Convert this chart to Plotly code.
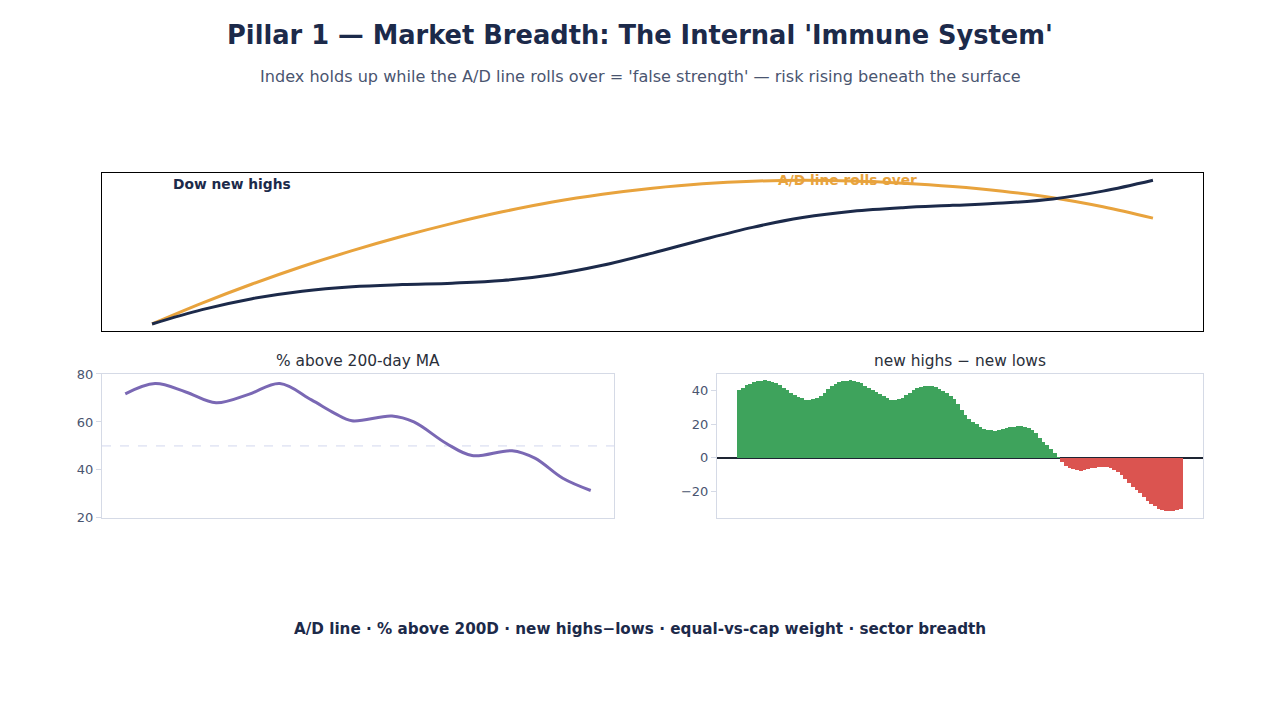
import plotly.graph_objects as go

# ---------------- data ----------------
top_t = [0.00, 0.05, 0.10, 0.15, 0.20, 0.25, 0.30, 0.35, 0.40, 0.45, 0.50,
         0.55, 0.60, 0.65, 0.70, 0.75, 0.80, 0.85, 0.90, 0.95, 1.00]
dow_index = [0, 10, 17.6, 22.8, 25.9, 27.4, 28.4, 30.2, 34.3, 40.8, 49.3,
             58.6, 67.2, 74.0, 78.4, 80.9, 82.5, 84.1, 87.0, 92.4, 100]
ad_line = [0, 14.5, 27.8, 40, 51, 61, 70, 78, 84.8, 90.2, 94.4,
           97.5, 99.3, 99.9, 99.4, 97.9, 95.6, 92.3, 87.8, 81.5, 73.6]

pct_t = [0.0, 0.064, 0.13, 0.195, 0.265, 0.332, 0.40, 0.45, 0.487, 0.573,
         0.62, 0.69, 0.745, 0.831, 0.88, 0.94, 1.0]
pct_above_200 = [71.7, 76, 72.5, 68, 71.5, 76, 69.2, 63.6, 60.5, 62.5,
                 60, 51, 46, 48, 44.9, 36.5, 31.4]

hl_net = [40.2, 41.8, 43.2, 44.2, 45.0, 45.7, 46.1, 46.2, 45.9, 45.4,
          44.4, 43.3, 41.9, 40.2, 38.5, 37.2, 36.2, 35.5, 34.6, 34.3,
          34.8, 35.8, 37.1, 38.8, 40.8, 42.8, 44.2, 45.1, 45.7, 46.1,
          46.2, 46.0, 45.4, 44.4, 43.1, 41.8, 40.4, 39.0, 37.8, 36.6,
          35.5, 34.6, 34.3, 34.8, 35.9, 37.3, 38.8, 40.2, 41.5, 42.5,
          43.0, 43.1, 42.9, 42.3, 41.3, 40.1, 38.7, 37.1, 34.8, 32.0,
          28.6, 25.6, 23.4, 21.6, 19.9, 18.6, 17.5, 16.8, 16.4, 16.3,
          16.5, 17.0, 17.6, 18.2, 18.6, 18.8, 18.9, 18.6, 17.9, 16.7,
          14.7, 12.1, 9.7, 7.4, 5.2, 2.8, 0.2, -2.6, -4.6, -5.8,
          -6.9, -7.5, -7.6, -7.4, -6.9, -6.3, -5.8, -5.5, -5.4, -5.6,
          -6.1, -7.1, -8.4, -10.2, -12.6, -15.2, -17.5, -19.3, -21.0, -23.2,
          -25.6, -27.5, -29.0, -30.3, -31.0, -31.4, -31.6, -31.5, -31.2, -30.8]
n_hl = len(hl_net)
hl_t = [i / (n_hl - 1) for i in range(n_hl)]

left_ticks = [20, 40, 60, 80]
right_ticks = [-20, 0, 20, 40]

NAVY = "#1c2a4a"
ORANGE = "#e8a33d"
PURPLE = "#7a68b4"
GREEN = "#3ea35c"
RED = "#db5450"
TICK = "#4a5570"
FRAME = "#d5dae6"

W = 1280
H_EFF = 705.6
Y_OFF = 6.7


def px(x):
    return x / W


def py(y):
    return 1 - (y - Y_OFF) / H_EFF


fig = go.Figure()

fig.add_trace(go.Scatter(x=top_t, y=ad_line, mode="lines", line=dict(color=ORANGE, width=3, shape="spline"),
                         xaxis="x", yaxis="y", showlegend=False, hoverinfo="skip"))
fig.add_trace(go.Scatter(x=top_t, y=dow_index, mode="lines", line=dict(color=NAVY, width=3, shape="spline"),
                         xaxis="x", yaxis="y", showlegend=False, hoverinfo="skip"))

fig.add_trace(go.Scatter(x=pct_t, y=pct_above_200, mode="lines", line=dict(color=PURPLE, width=3, shape="spline"),
                         xaxis="x2", yaxis="y2", showlegend=False))

fig.add_trace(go.Bar(x=hl_t, y=hl_net, marker=dict(color=[GREEN if v >= 0 else RED for v in hl_net], line=dict(width=0)),
                     xaxis="x3", yaxis="y3", showlegend=False))

top_dom_x = [px(102), px(1203)]
top_dom_y = [py(331), py(173)]
bl_dom_x = [px(102), px(614)]
br_dom_x = [px(717), px(1203)]
b_dom_y = [py(518), py(374)]

fig.update_layout(
    autosize=True,
    margin=dict(l=0, r=0, t=0, b=0),
    paper_bgcolor="white", plot_bgcolor="white",
    font=dict(family="DejaVu Sans", color=TICK),
    bargap=0,
    xaxis=dict(domain=top_dom_x, range=[-0.05, 1.05], showticklabels=False, ticks="", showgrid=False,
               zeroline=False, showline=True, linecolor="black", linewidth=1, mirror=True),
    yaxis=dict(domain=top_dom_y, range=[-4.9, 104.9], showticklabels=False, ticks="", showgrid=False,
               zeroline=False, showline=True, linecolor="black", linewidth=1, mirror=True),
    xaxis2=dict(domain=bl_dom_x, anchor="y2", range=[-0.05, 1.05], showticklabels=False, ticks="", showgrid=False,
                zeroline=False, showline=True, linecolor=FRAME, linewidth=1, mirror=True),
    yaxis2=dict(domain=b_dom_y, anchor="x2", range=[20, 80], tickvals=left_ticks, ticks="outside", ticklen=5,
                tickcolor=FRAME, tickfont=dict(size=13, color=TICK), showgrid=False, zeroline=False,
                showline=True, linecolor=FRAME, linewidth=1, mirror=True),
    xaxis3=dict(domain=br_dom_x, anchor="y3", range=[-0.05, 1.05], showticklabels=False, ticks="", showgrid=False,
                zeroline=False, showline=True, linecolor=FRAME, linewidth=1, mirror=True),
    yaxis3=dict(domain=b_dom_y, anchor="x3", range=[-35.8, 50], tickvals=right_ticks, ticks="outside", ticklen=5,
                tickcolor=FRAME, tickfont=dict(size=13, color=TICK), showgrid=False,
                zeroline=True, zerolinecolor="#1e2533", zerolinewidth=1.5,
                showline=True, linecolor=FRAME, linewidth=1, mirror=True),
)

fig.add_shape(type="line", xref="x2 domain", yref="y2", x0=0, x1=1, y0=50, y1=50,
              line=dict(color="#d3d7ee", width=1, dash="dash"), layer="below")

annos = [
    dict(text="<b>Pillar 1 — Market Breadth: The Internal 'Immune System'</b>", x=0.5, y=py(35),
         font=dict(size=25.7, color=NAVY)),
    dict(text="Index holds up while the A/D line rolls over = 'false strength' — risk rising beneath the surface",
         x=0.5, y=py(76), font=dict(size=16.1, color="#4a5570")),
    dict(text="<b>Dow new highs</b>", x=px(232), y=py(184), font=dict(size=13.8, color=NAVY)),
    dict(text="<b>A/D line rolls over</b>", x=px(847.5), y=py(180), font=dict(size=13.8, color=ORANGE)),
    dict(text="% above 200-day MA", x=px(358), y=py(361), font=dict(size=15.4, color="#2a2f3a")),
    dict(text="new highs − new lows", x=px(960), y=py(361), font=dict(size=15.4, color="#2a2f3a")),
    dict(text="<b>A/D line · % above 200D · new highs−lows · equal-vs-cap weight · sector breadth</b>",
         x=0.5, y=py(629), font=dict(size=15.2, color=NAVY)),
]
for a in annos:
    fig.add_annotation(xref="paper", yref="paper", showarrow=False, xanchor="center", yanchor="middle", **a)

fig.write_html("out.html")
